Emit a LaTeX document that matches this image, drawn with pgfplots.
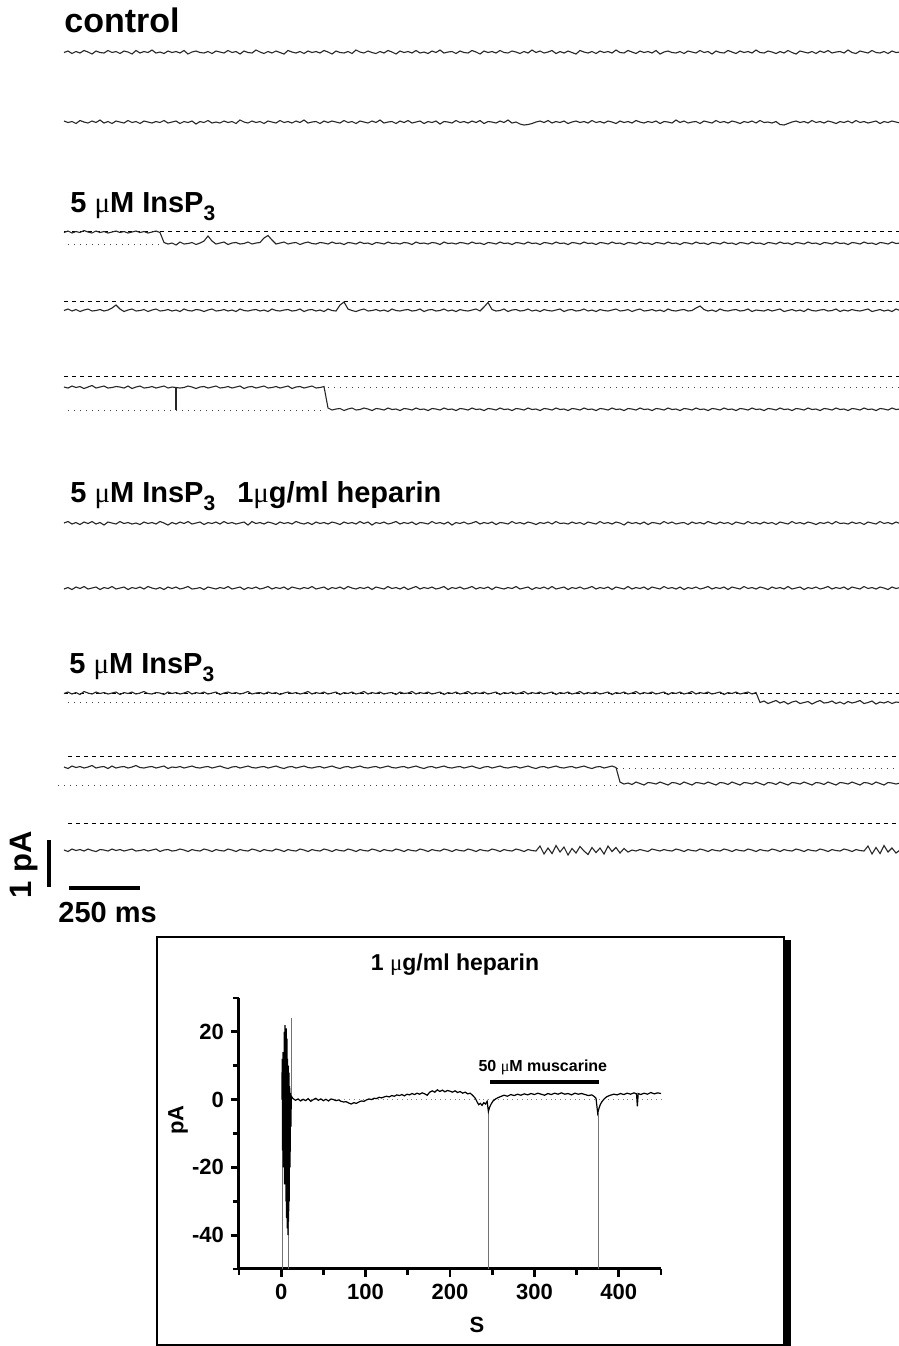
\documentclass[border=0pt]{standalone}
\usepackage{fontspec}
\setmainfont{Liberation Sans}
\newfontfamily\mufont{Liberation Serif}
\usepackage{pgfplots}
\pgfplotsset{compat=1.18}
\usepackage{pgfplotstable}

% single-channel traces: x in px, columns = offset (px) from each row's reference level
\pgfplotstableread{
x a b c d e f g h k m
64 0.5 -1 1.5 9.5 11 0 1 0.5 11 27
68 -1 0.5 0 8 12 -1.5 -0.5 -1 12.5 28.5
72 1.5 -0.5 2 10 10 1 1.5 1 10 26
76 -0.5 1.5 0.5 8.5 11.5 -0.5 -1 -0.5 11.5 27.5
80 1 -1.5 1.5 10.5 10.5 1.5 0.5 1.5 10.5 26.5
84 -1.5 0 -0.5 9 12.5 -1 -1.5 -1.5 12 28
88 0 1 1 8 11 0.5 1 0 11 26
92 2 -1 2 10 9.5 -1.5 0 1 9.5 27.5
96 -1 0.5 0 9.5 12 1 -1 -1 12 28.5
100 0.5 -2 1.5 8.5 11 -0.5 1.5 0.5 11 26.5
104 1 1 0.5 10 10 2 -0.5 -0.5 10.5 27
108 -1.5 -0.5 2 9 12 -1 0.5 1 12.5 28
112 0.5 1.5 1 7 11.5 0 -1.5 0 10 26
116 -0.5 -1 0 4 10.5 1 1 -1 12 27.5
120 1.5 0 1.5 8 11 -1.5 0 1.5 11 26.5
124 -1 1 0.5 10.5 12 0.5 -1 -0.5 10.5 28
128 0 -1.5 2 9 10 -0.5 1.5 0.5 12 27
132 2 0.5 1 8 12.5 1 -0.5 -1 11 26
136 -1.5 -0.5 0 10 11 0 0.5 1 9.5 28
140 1 1.5 1.5 9.5 10 1.5 -1 0 11.5 27.5
144 -0.5 -1 0.5 8.5 12 -1 1 -1.5 12 26.5
148 0.5 0 2 10.5 11.5 0.5 -1.5 0.5 11 28
152 -2 1 1 9 10.5 -0.5 0 1 10.5 27
156 1 -0.5 0 8 12 1 1 -0.5 12 26
160 0 0.5 1.5 10 11 -1.5 -0.5 0 11 28.5
164 1.5 -1.5 11.5 9.5 10 0 1.5 1.5 10 27
168 -1 1 13 8.5 12 2 -1 -1 12.5 26.5
172 0.5 0 12 10 11 -0.5 0.5 0.5 11 28
176 -0.5 -1 14 9 11.5 1 -1 -0.5 11.5 27.5
180 1 1.5 11 10.5 12 -1 1 1 10.5 26
184 -1.5 -0.5 13 8 11.5 0.5 0 0 12 27
188 2 0.5 12.5 9.5 10 -1.5 -1.5 -1.5 11 28.5
192 0 -1 11.5 10 11 1 1 1 10 26.5
196 -1 2 13.5 8.5 12.5 0 0.5 -0.5 11.5 27.5
200 0.5 -0.5 12 9 11 -1 -0.5 0.5 12 28
204 1 0.5 10 10.5 10.5 1.5 1.5 -1 11 26
208 -0.5 -1.5 5 9 12 -0.5 -1 1 10.5 27
212 1.5 1 10 8 11 0.5 0 0 12 28.5
216 -1 0 13 10 10 -1 1 -1 11 26.5
220 0 1 12 9.5 12 1 -0.5 1.5 10 27.5
224 1 -1 11 8.5 11.5 -1.5 0.5 0 11.5 28
228 -1.5 0.5 13.5 10 10.5 0.5 -1.5 -1 12.5 26
232 0.5 -0.5 12 9 12 -0.5 1 0.5 11 27
236 -0.5 1.5 11.5 10.5 11 1 0 -0.5 10.5 28.5
240 2 -2 13 8 10 0 -1 1 12 26.5
244 -1 0 12.5 9.5 12.5 -1 1.5 0 11 27.5
248 0.5 1 11 10 11 2 -0.5 -1.5 10 28
252 1 -1 13 9 10.5 -1.5 0.5 1 11.5 26
256 -2 0.5 12 8.5 12 0.5 -1 0 12 27
260 0 -0.5 11.5 10 11 -0.5 1 -0.5 11 28.5
264 1.5 1.5 7 9 10 1 0 1 10.5 26.5
268 -0.5 -1 4.5 10.5 12 -1 -1.5 -1 12 27.5
272 1 0 9 8 11.5 0 1 0.5 11 28
276 -1 1 13 9.5 10.5 1.5 -0.5 -0.5 10 26
280 0.5 -1.5 12 10 12 -1 0.5 1.5 11.5 27
284 2 0.5 11 9 11 0.5 -1 0 12.5 28.5
288 -1.5 -0.5 13 8.5 10 -0.5 1.5 -1 11 26.5
292 0 1 12 10 12.5 1 -1 0.5 10.5 27.5
296 1 -1 11.5 9.5 11 -1.5 0 -0.5 12 28
300 -0.5 0.5 13.5 8 10.5 0 1 1 11 26
304 1.5 -2 12 10.5 12 1 -0.5 0 10 27
308 -1 1 11 9 11 -0.5 0.5 -1.5 11.5 28.5
312 0.5 0 12.5 8.5 10 1.5 -1.5 1 12 26.5
316 -0.5 -0.5 13 10 12 -1 1 -0.5 11 27.5
320 1 1.5 11.5 9 11.5 0.5 0 0.5 10.5 28
324 -1.5 -1 12 10.5 10.5 -0.5 -1 -1 12 26
328 0 0.5 13 8 32 1 1.5 1 11 27
332 2 -1 11 9.5 34 -1 -0.5 0 10 28.5
336 -1 0 12.5 10 33 0 0.5 -1 11.5 26.5
340 0.5 1 12 4 32.5 1.5 -1 1.5 12.5 27.5
344 1 -1.5 13.5 1 34.5 -1 1 -0.5 11 28
348 -0.5 0.5 11.5 8 33 0.5 -1.5 0.5 10.5 26
352 1.5 -0.5 12 9.5 32 -0.5 0 -1 12 27
356 -2 1.5 13 10.5 34 1 1 1 11 28.5
360 0 -1 11 9 33.5 -1.5 -0.5 0 10 26.5
364 1 0 12.5 8 32 0.5 0.5 -1.5 11.5 27.5
368 -1 1 12 10 33 -1 -1 1 12 28
372 0.5 -1 13.5 9.5 34.5 2 1.5 -0.5 11 26
376 1.5 0.5 11.5 8.5 32.5 -0.5 -1 0.5 10.5 27
380 -0.5 -2 12 10 33 0.5 0 -1 12 28.5
384 1 1 13 9 34 -1 1 1 11 26.5
388 -1.5 0 11 10.5 32 1 -1.5 0 10 27.5
392 0 -0.5 12.5 8 33.5 0 0.5 -0.5 11.5 28
396 2 1.5 12 9.5 33 -1.5 -0.5 1.5 12 26
400 -1 -1 13 10 34.5 1 1 -1 11 27
404 0.5 0.5 11.5 9 32.5 -0.5 -1 0.5 10.5 28.5
408 -0.5 -1.5 12 8.5 33 0.5 1.5 0 12 26.5
412 1 1 13.5 10 34 -1 0 -1.5 11 27.5
416 -1.5 0 11 9.5 32 1.5 -1.5 1 10 28
420 1 -1 12.5 8 33.5 -0.5 1 -0.5 11.5 26
424 0 1.5 12 10.5 33 0 -0.5 0.5 12.5 27
428 1.5 -0.5 13 9 34.5 1 0.5 -1 11 28.5
432 -1 0.5 11.5 8.5 32.5 -1.5 -1 1 10.5 26.5
436 0.5 -1 12 10 33 0.5 1 0 12 27.5
440 -2 2 13.5 9.5 34 -0.5 0 -1 11 28
444 1 -0.5 11 8 32 1 -1.5 1.5 10 26
448 0 0 12.5 10 33.5 -1 1.5 -0.5 11.5 27
452 -0.5 1 12 9 33 2 -0.5 0.5 12 28.5
456 1.5 -1.5 13 10.5 34.5 -0.5 0.5 -1 11 26.5
460 -1 0.5 11.5 8.5 32.5 0.5 -1 1 10.5 27.5
464 0.5 -0.5 12 9.5 33 -1 1 0 12 28
468 1 1 13 10 34 1 0 -1.5 11 26
472 -1.5 -1 11 9 32 0 -1.5 1 10 27
476 0 0.5 12.5 8 33.5 -1.5 1 -0.5 11.5 28.5
480 2 -1.5 12 10 33 1 -0.5 0.5 12.5 26.5
484 -1 1.5 13.5 6 34.5 -0.5 0.5 -1 11 27.5
488 0.5 -0.5 11.5 1.5 32.5 0.5 -1 1 10.5 28
492 -0.5 0 12 8.5 33 -1 1.5 0 12 26
496 1 1 13 10 34 1.5 -1 -1 11 27
500 -1.5 -1 11 9.5 32 -0.5 0 1.5 10 28.5
504 0.5 0.5 12.5 8 33.5 0 1 -0.5 11.5 26.5
508 1 -2 12 10.5 33 1 -0.5 0.5 12 27.5
512 -1 1 13.5 9 34.5 -1.5 0.5 -1 11 28
516 0 0 11.5 8.5 32.5 0.5 -1.5 1 10.5 26
520 1.5 2 12 10 33 -0.5 1 0 12 27
524 -0.5 3 13 9.5 34 1 0 -1.5 11 28.5
528 1 2.5 11 8 32 -1 -1 1 10 26.5
532 -2 1.5 12.5 10 33.5 0 1.5 -0.5 11.5 27.5
536 0.5 0 12 9 33 1.5 -0.5 0.5 12.5 28
540 -1 -1 13.5 10.5 34.5 -0.5 0.5 -1 11 23
544 1 0.5 11.5 8.5 32.5 0.5 -1 1 10.5 31
548 0 -1.5 12 9.5 33 -1 1 0 12 25
552 -1.5 1 13 10 34 1 -1.5 -1 11 30.5
556 1.5 -0.5 11 9 32 -1.5 1 1.5 10 22.5
560 -0.5 0.5 12.5 8 33.5 0.5 0 -0.5 11.5 29
564 1 -1 12 10.5 33 0 -1 0.5 12 24
568 -1 1.5 13.5 9 34.5 1 1.5 -1 11 32
572 0.5 0 11.5 8.5 32.5 -1 -0.5 1 10.5 25.5
576 2 -1 12 10 33 0.5 0.5 0 12 30
580 -1.5 0.5 13 9.5 34 -0.5 -1 -1.5 11 23.5
584 0 -0.5 11 8 32 1.5 1 1 10 28
588 1 1 12.5 10 33.5 -1 0 -0.5 11.5 31.5
592 -0.5 -1.5 12 9 33 0 -1.5 0.5 12.5 24.5
596 1.5 0.5 13.5 10.5 34.5 1 1 -1 11 29.5
600 -1 -0.5 11.5 8.5 32.5 -1.5 -0.5 1 10.5 25
604 0.5 1 12 9.5 33 0.5 0.5 0 12 31
608 -0.5 -1 13 10 34 -0.5 -1 -1 11 23
612 1 0 11 9 32 1 1.5 1.5 10 28.5
616 -2 1.5 12.5 8 33.5 -1 -1 -0.5 11.5 24.5
620 0.5 -1 12 10 33 0 0 0.5 26 30
624 1 0.5 13.5 9.5 34.5 2 1 -1 28 25.5
628 -1.5 -0.5 11.5 8.5 32.5 -1 -1.5 1 27 29
632 0 1 12 10.5 33 0.5 1 0 28.5 27
636 1.5 -1.5 13 9 34 -0.5 -0.5 -1.5 26 28
640 -1 0 11 8 32 1 0.5 1 27.5 26.5
644 0.5 1 12.5 10 33.5 -1 -1 -0.5 29 27.5
648 -0.5 -0.5 12 9.5 33 1.5 1.5 0.5 26.5 28.5
652 1 0.5 13.5 8.5 34.5 -0.5 -1 -1 27 26
656 -1.5 -1 11.5 10 32.5 0 0 1 28 27
660 2 1.5 12 9 33 1 1 0 26 28
664 0 -0.5 13 10.5 34 -1.5 -1.5 -1 27.5 26.5
668 -1 0 11 8 32 0.5 0.5 1.5 29 27.5
672 0.5 1 12.5 9.5 33.5 -1 -0.5 -0.5 26.5 28
676 1 -2 12 10 33 1 1 0.5 27 26
680 -0.5 0.5 13.5 9 34.5 0 -1 -1 28.5 27
684 1.5 -1 11.5 8.5 32.5 -0.5 1.5 1 26 28.5
688 -1 1 12 10 33 1.5 -0.5 0 27.5 26.5
692 0 0 13 9.5 34 -1 0.5 -1.5 29 27.5
696 1 -0.5 11 7 32 0.5 -1 1 26.5 28
700 -1.5 1.5 12.5 5 33.5 -0.5 1 -0.5 27 26
704 0.5 -1 12 8.5 33 1 0 0.5 28 27
708 -0.5 0 13.5 10 34.5 -1.5 -1.5 -1 26 28.5
712 2 1 11.5 9 32.5 0 1 1 27.5 26.5
716 -1 -1.5 12 10.5 33 1 -0.5 0 29 27.5
720 0.5 0.5 13 8 34 -1 0.5 -1 26.5 28
724 1 -0.5 11 9.5 32 0.5 -1 1.5 27 26
728 -1.5 1 12.5 10 33.5 -0.5 1.5 -0.5 28.5 27
732 0 -1 12 9 33 1.5 -1 0.5 26 28.5
736 1.5 0 13.5 8.5 34.5 -1 0 -1 27.5 26.5
740 -1 1.5 11.5 10 32.5 0 1 1 29 27.5
744 0.5 -0.5 12 9.5 33 1 -1.5 0 26.5 28
748 -0.5 0.5 13 8 34 -1.5 0.5 -1 27 26
752 1 -1 11 10.5 32 0.5 -0.5 1 28 27
756 -2 1 12.5 9 33.5 -0.5 1 -0.5 26 28.5
760 0.5 -1.5 12 9.5 33 1 -1 9.5 27.5 26.5
764 1 0.5 13.5 10 34.5 -1 0 8 29 27.5
768 -1 0 11.5 8.5 32.5 0.5 1.5 10.5 26.5 28
772 0 1 12 10 33 -0.5 -1 9 27 26
776 1.5 -0.5 13 9 34 1.5 0.5 7.5 28.5 27
780 -0.5 2.5 11 8 32 -1 -0.5 10 26 28.5
784 1 3 12.5 10.5 33.5 0 1 8.5 27.5 26.5
788 -1.5 1.5 12 9.5 33 1 -1.5 11 29 27.5
792 0.5 0 13.5 8.5 34.5 -1.5 1 9 26.5 28
796 2 -1 11.5 10 32.5 0.5 0 8 27 26
800 -1 0.5 12 9 33 -0.5 -1 10.5 28 27
804 0 -0.5 13 10.5 34 1 1.5 9.5 26 28.5
808 1 1 11 8 32 -1 -0.5 8.5 27.5 26.5
812 -0.5 -1.5 12.5 9.5 33.5 0 0.5 11 29 27.5
816 1.5 0.5 12 10 33 1.5 -1 9 26.5 28
820 -1 -0.5 13.5 9 34.5 -0.5 1 7.5 27 26
824 0.5 1 11.5 8.5 32.5 0.5 0 10 28.5 27
828 -1.5 -1 12 10 33 -1 -1.5 9.5 26 28.5
832 1 0 13 9.5 34 1 1 8 27.5 26.5
836 0 1.5 11 8 32 -1.5 -0.5 10.5 29 27.5
840 -0.5 -0.5 12.5 10.5 33.5 0.5 0.5 9 26.5 28
844 1 0.5 12 9 33 0 -1 11 27 26
848 -2 -1 13.5 10 34.5 1 1.5 8.5 28 27
852 0.5 1 11.5 8.5 32.5 -1 -1 10 26 28.5
856 1.5 -1.5 12 9.5 33 0.5 0 9 27.5 26.5
860 -1 0.5 13 10 34 -0.5 1 7.5 29 27.5
864 0 -0.5 11 9 32 1.5 -1.5 10.5 26.5 28
868 1 1 12.5 8 33.5 -1 0.5 9.5 27 23
872 -1.5 0 12 10.5 33 0 -0.5 8 28.5 31
876 0.5 -1 13.5 9.5 34.5 1 1 11 26 24.5
880 1 1.5 11.5 8.5 32.5 -1.5 -1 9 27.5 30.5
884 -0.5 -0.5 12 10 33 0.5 0 10 29 22.5
888 1.5 0.5 13 9 34 -0.5 1.5 8.5 26.5 29
892 -1 -1 11 10.5 32 1 -1 10.5 27 25
896 0.5 0 12.5 8 33.5 -1 0.5 9 28 30
900 0 1 12 9.5 33 0.5 -0.5 9.5 27 27
}\traces

\tikzset{
  trace/.style={black!85, line width=0.55pt},
  closed/.style={black, line width=0.4pt, dash pattern=on 2pt off 2pt},
  open/.style={black!75, line width=0.4pt, dash pattern=on 0.4pt off 2.6pt},
  big/.style={inner sep=0pt, font=\bfseries\fontsize{14.5}{17}\selectfont},
}
\newcommand\um{{\mdseries\mufont μ}}
\newcommand\ip{5 \um M InsP\raisebox{-4pt}{\fontsize{10.5}{12}\selectfont 3}}

\begin{document}
\begin{tikzpicture}
\useasboundingbox (0,0) rectangle (449.5pt,673pt);
\begin{axis}[name=main, at={(0,0)}, anchor=south west,
  scale only axis, width=449.5pt, height=673pt,
  xmin=0, xmax=899, ymin=0, ymax=1346, y dir=reverse,
  hide axis, clip=false]
  % reference levels: dashed = closed, dotted = open
  \addplot[closed] coordinates {(64,231)(899,231)};
  \addplot[open] coordinates {(68,244)(163,244)};
  \addplot[closed] coordinates {(64,301)(899,301)};
  \addplot[closed] coordinates {(64,376)(899,376)};
  \addplot[open] coordinates {(328,387)(899,387)};
  \addplot[open] coordinates {(68,410)(326,410)};
  \addplot[closed] coordinates {(64,693)(899,693)};
  \addplot[open] coordinates {(68,702)(757,702)};
  \addplot[closed] coordinates {(68,756)(899,756)};
  \addplot[open] coordinates {(617,768)(899,768)};
  \addplot[open] coordinates {(58,785)(617,785)};
  \addplot[closed] coordinates {(68,823)(899,823)};

  \addplot[trace] table[x=x, y expr=\thisrow{a}+52] {\traces};
  \addplot[trace] table[x=x, y expr=\thisrow{b}+122] {\traces};
  \addplot[trace] table[x=x, y expr=\thisrow{c}+231] {\traces};
  \addplot[trace] table[x=x, y expr=\thisrow{d}+301] {\traces};
  \addplot[trace] table[x=x, y expr=\thisrow{e}+376] {\traces};
  \addplot[trace] coordinates {(176,387)(176,410)};
  \addplot[trace] table[x=x, y expr=\thisrow{f}+523] {\traces};
  \addplot[trace] table[x=x, y expr=\thisrow{g}+588] {\traces};
  \addplot[trace] table[x=x, y expr=\thisrow{h}+693] {\traces};
  \addplot[trace] table[x=x, y expr=\thisrow{k}+756] {\traces};
  \addplot[trace] table[x=x, y expr=\thisrow{m}+823] {\traces};

  % scale bars
  \addplot[black, line width=1.6pt] coordinates {(49,840)(49,887)};
  \addplot[black, line width=1.6pt] coordinates {(69,888)(140,888)};

  \node[anchor=base west, inner sep=0pt, font=\bfseries\fontsize{17}{20}\selectfont] at (axis cs:64,32) {control};
  \node[anchor=base west, big] at (axis cs:70,212) {\ip};
  \node[anchor=base west, big] at (axis cs:70,502) {\ip\hspace{11pt}1\um g/ml heparin};
  \node[anchor=base west, big] at (axis cs:69,673) {\ip};
  \node[anchor=base west, big] at (axis cs:58,922) {250 ms};
  \node[rotate=90, font=\bfseries\fontsize{15.5}{18}\selectfont] at (axis cs:24,865) {1 pA};

  % inset frame
  \draw[line width=0.6pt] (axis cs:157,937) rectangle (axis cs:784,1345);
  \fill[black] (axis cs:784,940) rectangle (axis cs:791,1346);
  \node[font=\bfseries\fontsize{11.5}{14}\selectfont] at (axis cs:455,965) {1 \um g/ml heparin};
  \coordinate (ins) at (axis cs:239,1269);
\end{axis}

\begin{axis}[at={(ins)}, anchor=south west,
  scale only axis, width=211pt, height=135.5pt,
  xmin=-50, xmax=450, ymin=-50, ymax=30,
  axis x line*=bottom, axis y line*=left,
  axis line style={line width=1.5pt, -},
  xtick={0,100,200,300,400}, ytick={-40,-20,0,20},
  minor xtick={-50,50,150,250,350,450}, minor ytick={-50,-30,-10,10,30},
  tick align=outside, major tick length=4pt, minor tick length=3pt,
  tick style={black, line width=1.4pt},
  tick label style={font=\bfseries\fontsize{11}{13}\selectfont},
  /pgf/number format/assume math mode=true,
  clip=false]
  \addplot[gray, dotted, line width=0.4pt] coordinates {(12,0)(450,0)};
  \addplot[black!55, line width=0.4pt] coordinates {(1.6,14)(1.6,-50)};
  \addplot[black!55, line width=0.4pt] coordinates {(9,-30)(9,-50)};
  \addplot[black!55, line width=0.4pt] coordinates {(12.6,24)(12.6,0)};
  \addplot[black!55, line width=0.4pt] coordinates {(245.5,-3)(245.5,-50)};
  \addplot[black!55, line width=0.4pt] coordinates {(375.5,-4)(375.5,-50)};
  \addplot[black, line width=0.6pt] coordinates {
    (0.8,0)(1.2,12)(1.6,-15)(2.0,8)(2.4,-20)(2.8,14)(3.2,-12)(3.6,20)(4.0,-25)
    (4.4,22)(4.8,-18)(5.2,16)(5.6,-30)(6.0,21)(6.4,-35)(6.8,18)(7.2,-38)(7.6,12)
    (8.0,-40)(8.4,10)(8.8,-36)(9.2,8)(9.6,-30)(10,4)(10.5,-20)(11,2)(11.5,-8)(12,1)
    (14,0.3)(17,-0.2)(20,0.2)(23,-0.4)(26,0.1)(29,-0.3)(32,0.3)(35,-0.5)(38,0)
    (41,0.4)(44,-0.2)(47,0.2)(50,-0.3)(53,0.1)(56,-0.4)(59,0.2)(62,0)(65,-0.3)
    (68,-0.1)(71,-0.5)(74,-0.7)(77,-0.6)(80,-1)(83,-1.3)(86,-0.9)(89,-1.1)(92,-0.7)
    (95,-0.4)(98,-0.5)(101,-0.1)(104,0.2)(107,0)(110,0.4)(113,0.3)(116,0.7)(119,0.5)
    (122,0.8)(125,1)(128,0.8)(131,1.2)(134,1)(137,1.4)(140,1.2)(143,1.5)(146,1.1)
    (149,1.6)(152,1.4)(155,1.8)(158,1.5)(161,1.9)(164,1.6)(167,2)(170,1.7)(173,1.3)
    (176,2.2)(179,2.6)(182,2.2)(185,2.9)(188,2.4)(191,2.8)(194,2.3)(197,2.7)(200,2.5)
    (203,2.2)(206,2.6)(209,2.1)(212,2.4)(215,1.9)(218,2.2)(221,1.7)(224,1.9)(227,1.2)
    (230,0.4)(232,-0.6)(234,-1.5)(236,-1.1)(238,-1.7)(240,-0.9)(242,-1.3)(244,-0.5)
    (245.5,-3.5)(247,-2.2)(249,-1.2)(251,-0.4)(254,0.2)(257,0.6)(260,0.9)(264,1.3)
    (268,1)(272,1.5)(276,1.2)(280,1.6)(284,1.3)(288,1.7)(292,1.4)(296,1.8)(300,1.5)
    (304,1.9)(308,1.6)(312,1.3)(316,1.8)(320,1.5)(324,1.9)(328,1.6)(332,2)(336,1.6)
    (340,1.8)(344,1.4)(348,1.9)(352,1.6)(356,1.8)(360,1.5)(364,1.2)(368,1.4)(371,0.9)
    (373,0.4)(375,-4)(376.5,-2.6)(378,-1.5)(380,-0.6)(383,0.3)(386,0.9)(390,1.3)
    (394,1.6)(398,1.4)(402,1.8)(406,1.5)(410,1.9)(414,1.6)(418,2)(421,1.7)(422,-2)
    (423,1.8)(426,1.5)(430,1.9)(434,1.6)(438,2.1)(442,1.7)(446,2)(450,1.8)};
  % muscarine application bar
  \addplot[black, line width=2pt] coordinates {(247,5.1)(376,5.1)};
  \node[font=\bfseries\fontsize{8}{10}\selectfont] at (axis cs:310,9.4) {50 \um M muscarine};
  \node[font=\bfseries\fontsize{11}{13}\selectfont] at ([yshift=-28pt]axis cs:232,-50) {S};
  \node[rotate=90, font=\bfseries\fontsize{11}{13}\selectfont] at ([xshift=-30.5pt]axis cs:-50,-6) {pA};
\end{axis}
\end{tikzpicture}
\end{document}
